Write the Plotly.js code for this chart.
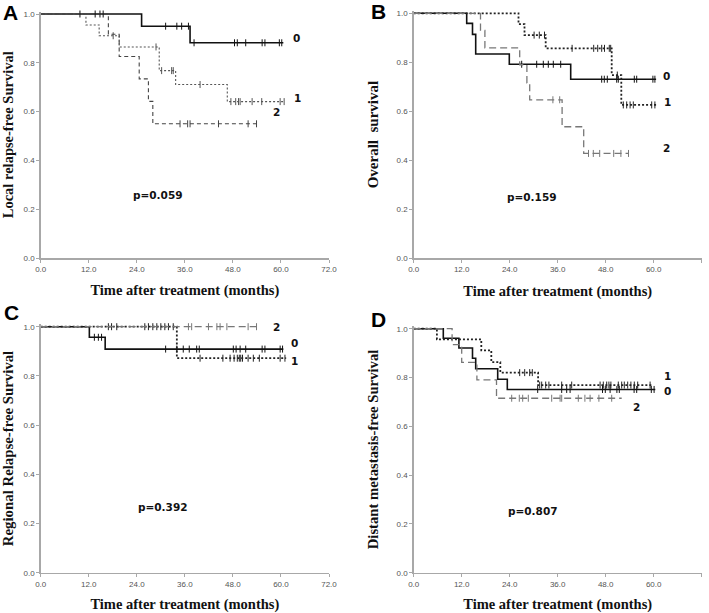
<!DOCTYPE html>
<html>
<head>
<meta charset="utf-8">
<script src="https://cdn.plot.ly/plotly-3.0.1.min.js"></script>
<style>html,body{margin:0;padding:0;background:#fff;}#chart{width:709px;height:613px;}</style>
</head>
<body>
<div id="chart"></div>
<script>
// ---------- data (months, survival proportion) ----------
const groups = ["0", "1", "2"];
const xTicks = [0, 12, 24, 36, 48, 60, 72];
const yTicks = [0, 0.2, 0.4, 0.6, 0.8, 1.0];
const panelLetters = ["A", "B", "C", "D"];
const yTitles = ["Local relapse-free Survival", "Overall\u00a0\u00a0survival", "Regional Relapse-free Survival", "Distant metastasis-free Survival"];
const xTitle = "Time after treatment (months)";
const pValues = ["p=0.059", "p=0.159", "p=0.392", "p=0.807"];

// Panel A: local relapse-free survival
const A0_t = [0, 25.2, 37.3, 60.6];
const A0_s = [1, 0.95, 0.882, 0.882];
const A0_c = [9.8, 13.6, 14.8, 15.6, 31.2, 34.0, 35.2, 36.9, 38.3, 48.4, 49.1, 51.2, 55.3, 56.0, 59.6, 60.2];
const A1_t = [0, 11.3, 14.6, 19.6, 29.6, 33.7, 46.6, 60.8];
const A1_s = [1, 0.955, 0.911, 0.865, 0.768, 0.711, 0.641, 0.641];
const A1_c = [18.1, 28.8, 30.2, 32.7, 33.1, 39.8, 47.5, 48.7, 49.4, 49.8, 52.8, 55.2, 59.8, 60.8];
const A2_t = [0, 16.9, 19.6, 24.6, 26.9, 28.0, 53.9];
const A2_s = [1, 0.917, 0.826, 0.734, 0.642, 0.55, 0.55];
const A2_c = [34.8, 36.7, 37.3, 44.4, 51.8, 53.9];

// Panel B: overall survival
const B0_t = [0, 13.25, 14.7, 15.5, 23.9, 39.25, 60.6];
const B0_s = [1, 0.959, 0.914, 0.834, 0.792, 0.731, 0.731];
const B0_c = [27.0, 30.75, 32.4, 33.65, 34.9, 36.75, 47.0, 47.65, 48.4, 50.75, 51.15, 55.15, 55.75, 59.8, 60.3];
const B1_t = [0, 26.2, 27.7, 33.0, 49.5, 51.9, 61.0];
const B1_s = [1, 0.956, 0.911, 0.857, 0.748, 0.626, 0.626];
const B1_c = [30.1, 31.4, 32.7, 39.6, 45.0, 46.0, 47.0, 47.7, 48.9, 49.25, 50.9, 52.4, 53.25, 54.1, 54.9, 59.5, 60.3];
const B2_t = [0, 16.7, 17.8, 26.5, 28.3, 29.0, 37.1, 42.5, 53.8];
const B2_s = [1, 0.93, 0.859, 0.79, 0.716, 0.647, 0.537, 0.428, 0.428];
const B2_c = [34.8, 36.5, 43.7, 44.9, 46.5, 50.0, 51.8, 53.7];

// Panel C: regional relapse-free survival
const C0_t = [0, 12.15, 16.1, 60.6];
const C0_s = [1, 0.957, 0.909, 0.909];
const C0_c = [13.4, 14.4, 15.2, 31.2, 34.0, 35.6, 37.1, 38.95, 39.6, 48.1, 48.8, 49.8, 51.2, 55.3, 56.0, 59.8, 60.4];
const C1_t = [0, 34.0, 61.3];
const C1_s = [1, 0.872, 0.872];
const C1_c = [16.9, 17.7, 19.0, 26.0, 26.9, 28.0, 29.0, 30.0, 31.0, 31.9, 33.1, 39.8, 45.5, 47.3, 48.3, 49.1, 49.6, 49.95, 50.4, 51.8, 53.1, 54.6, 59.8, 61.0];
const C2_t = [0, 54.3];
const C2_s = [1, 1];
const C2_c = [36.9, 37.7, 41.9, 44.0, 44.8, 46.5, 51.8, 53.9];

// Panel D: distant metastasis-free survival
const D0_t = [0, 7.4, 11.3, 14.7, 15.5, 21.0, 23.4, 60.4];
const D0_s = [1, 0.961, 0.921, 0.879, 0.836, 0.793, 0.751, 0.751];
const D0_c = [31.0, 37.0, 38.25, 39.1, 47.2, 47.9, 49.1, 50.8, 51.4, 55.1, 55.75, 59.4, 60.1];
const D1_t = [0, 5.8, 16.9, 19.4, 21.65, 31.1, 59.9];
const D1_s = [1, 0.956, 0.911, 0.863, 0.82, 0.769, 0.769];
const D1_c = [26.5, 27.75, 29.0, 29.65, 31.5, 32.0, 33.0, 33.8, 37.0, 39.5, 46.6, 47.4, 48.25, 48.8, 49.3, 51.15, 52.0, 52.65, 53.5, 54.3, 55.15, 56.0, 59.1];
const D2_t = [0, 9.6, 12.0, 15.8, 20.7, 52.0];
const D2_s = [1, 0.935, 0.862, 0.79, 0.715, 0.715];
const D2_c = [24.5, 26.4, 27.25, 28.65, 34.5, 36.6, 37.0, 41.15, 42.8, 44.1, 46.3, 49.5];

// ---------- build ----------
const panels = [
  [[A0_t, A0_s, A0_c], [A1_t, A1_s, A1_c], [A2_t, A2_s, A2_c]],
  [[B0_t, B0_s, B0_c], [B1_t, B1_s, B1_c], [B2_t, B2_s, B2_c]],
  [[C0_t, C0_s, C0_c], [C1_t, C1_s, C1_c], [C2_t, C2_s, C2_c]],
  [[D0_t, D0_s, D0_c], [D1_t, D1_s, D1_c], [D2_t, D2_s, D2_c]]
];

function survAt(t, s, x) {
  let v = s[0];
  for (let i = 0; i < t.length; i++) { if (t[i] <= x) v = s[i]; }
  return v;
}

// styles per panel: [solid, dotted, dashed]
const styleA = [
  {color: "#111", width: 1.6, dash: "solid"},
  {color: "#555", width: 1.1, dash: "2px,2px"},
  {color: "#444", width: 1.1, dash: "4px,3px"}
];
const styleOther = [
  {color: "#111", width: 1.6, dash: "solid"},
  {color: "#222", width: 1.8, dash: "2px,2px"},
  {color: "#777", width: 1.3, dash: "7px,4px"}
];

const W = 709, H = 613;
const xDom = [[40.7, 329], [413.7, 701.7], [40.7, 329], [413.7, 701.7]];
const yPix = [[258, 14], [258.3, 13.3], [572.7, 326.7], [572.7, 328.7]]; // [y=0, y=1]
const yTop = 1.01;

const data = [];
panels.forEach((pan, pi) => {
  const sfx = pi === 0 ? "" : String(pi + 1);
  const st = pi === 0 ? styleA : styleOther;
  pan.forEach((g, gi) => {
    const [t, s, c] = g;
    data.push({
      type: "scatter", mode: "lines", x: t, y: s,
      line: {shape: "hv", color: st[gi].color, width: st[gi].width, dash: st[gi].dash},
      xaxis: "x" + sfx, yaxis: "y" + sfx, showlegend: false, hoverinfo: "skip",
      name: groups[gi]
    });
    data.push({
      type: "scatter", mode: "markers", x: c, y: c.map(v => survAt(t, s, v)),
      marker: {symbol: "line-ns-open", size: 5, color: st[gi].color, line: {color: st[gi].color, width: 1}},
      xaxis: "x" + sfx, yaxis: "y" + sfx, showlegend: false, hoverinfo: "skip",
      cliponaxis: false
    });
  });
});

const layout = {
  width: W, height: H,
  margin: {l: 0, r: 0, t: 0, b: 0},
  paper_bgcolor: "#fff", plot_bgcolor: "#fff",
  showlegend: false,
  annotations: []
};

const yTitleSizes = [14.5, 15, 14.8, 14.7];
const yStandoff = [8, 14, 9, 14];
for (let pi = 0; pi < 4; pi++) {
  const sfx = pi === 0 ? "" : String(pi + 1);
  const y0 = yPix[pi][0], y1 = yPix[pi][1];
  const per = y0 - y1;
  const topPix = y0 - per * yTop;
  layout["xaxis" + sfx] = {
    domain: [xDom[pi][0] / W, xDom[pi][1] / W],
    range: [0, 72], anchor: "y" + sfx,
    tickvals: xTicks, tickformat: ".1f",
    showline: true, linecolor: "#a8a8a8", linewidth: 1.5,
    ticks: "outside", ticklen: 3, tickcolor: "#a8a8a8", tickwidth: 1,
    showgrid: false, zeroline: false,
    tickfont: {family: "Liberation Sans", size: 8, color: "#555"},
    title: {text: xTitle, standoff: 12, font: {family: "Liberation Serif", size: 14.5, weight: "bold", color: "#111"}}
  };
  layout["yaxis" + sfx] = {
    domain: [1 - y0 / H, 1 - topPix / H],
    range: [0, yTop], anchor: "x" + sfx,
    tickvals: yTicks, tickformat: ".1f",
    showline: true, linecolor: "#a8a8a8", linewidth: 1.5,
    ticks: "outside", ticklen: 3, tickcolor: "#a8a8a8", tickwidth: 1,
    showgrid: false, zeroline: false,
    tickfont: {family: "Liberation Sans", size: 8, color: "#555"},
    title: {text: yTitles[pi], standoff: yStandoff[pi], font: {family: "Liberation Serif", size: yTitleSizes[pi], weight: "bold", color: "#111"}}
  };
}

// panel letters
const letterPos = [[10, 12.5], [379, 12], [11.5, 312.5], [379, 319.5]];
panelLetters.forEach((L, i) => {
  layout.annotations.push({
    text: L, xref: "paper", yref: "paper",
    x: letterPos[i][0] / W, y: 1 - letterPos[i][1] / H,
    xanchor: "center", yanchor: "middle", showarrow: false,
    font: {family: "Liberation Sans", size: 21, weight: "bold", color: "#000"}
  });
});

// group labels and p-values (data coordinates)
const labelPos = [
  [[63.9, 0.90], [64.2, 0.655], [58.9, 0.60]],
  [[63.25, 0.744], [63.4, 0.64], [63.25, 0.449]],
  [[63.5, 0.932], [63.5, 0.861], [58.9, 1.0]],
  [[63.4, 0.746], [63.4, 0.806], [55.75, 0.68]]
];
const pPos = [[29.4, 0.258], [29.5, 0.251], [30.6, 0.268], [29.9, 0.254]];
for (let pi = 0; pi < 4; pi++) {
  const sfx = pi === 0 ? "" : String(pi + 1);
  groups.forEach((g, gi) => {
    layout.annotations.push({
      text: g, xref: "x" + sfx, yref: "y" + sfx,
      x: labelPos[pi][gi][0], y: labelPos[pi][gi][1],
      xanchor: "center", yanchor: "middle", showarrow: false,
      font: {family: "DejaVu Sans", size: 10.5, weight: "bold", color: "#111"}
    });
  });
  layout.annotations.push({
    text: pValues[pi], xref: "x" + sfx, yref: "y" + sfx,
    x: pPos[pi][0], y: pPos[pi][1],
    xanchor: "center", yanchor: "middle", showarrow: false,
    font: {family: "DejaVu Sans", size: 10.5, weight: "bold", color: "#111"}
  });
}

Plotly.newPlot("chart", data, layout, {staticPlot: true, displayModeBar: false});
</script>
</body>
</html>
